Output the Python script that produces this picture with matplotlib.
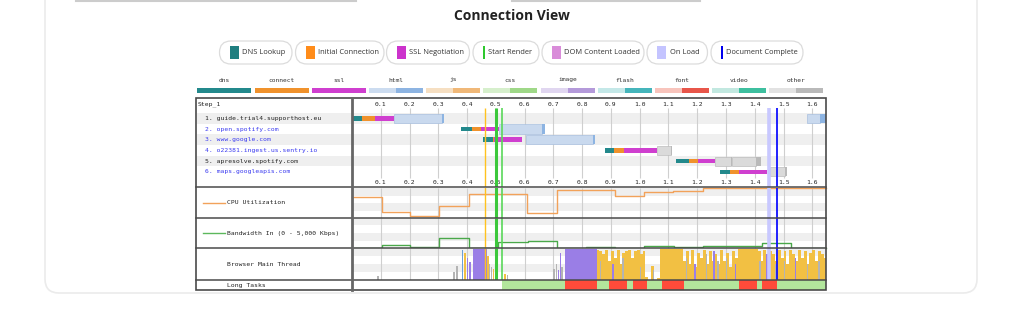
import matplotlib.pyplot as plt
from matplotlib.patches import FancyBboxPatch, Rectangle

# ---- data ----
hosts = ["guide.trial4.supporthost.eu", "open.spotify.com", "www.google.com",
         "o22381.ingest.us.sentry.io", "apresolve.spotify.com", "maps.googleapis.com"]
host_link = [False, True, True, True, False, True]

dns_start = [0.000, 0.379, 0.456, 0.879, 1.126, 1.279]
conn_start = [0.035, 0.418, 0.490, 0.912, 1.171, 1.314]
ssl_start = [0.080, 0.448, 0.494, 0.945, 1.202, 1.346]
ssl_end = [0.147, 0.511, 0.590, 1.059, 1.262, 1.441]

req_row = [0, 0, 1, 2, 3, 4, 4, 5]
req_start = [0.147, 1.580, 0.511, 0.605, 1.059, 1.262, 1.322, 1.453]
req_dl = [0.312, 1.628, 0.660, 0.838, 1.108, 1.318, 1.405, 1.505]
req_end = [0.320, 1.650, 0.671, 0.843, 1.111, 1.322, 1.422, 1.511]
req_type = ["html", "html", "html", "html", "other", "other", "other", "other"]

ticks = [0.1, 0.2, 0.3, 0.4, 0.5, 0.6, 0.7, 0.8, 0.9, 1.0, 1.1, 1.2, 1.3, 1.4, 1.5, 1.6]

event_t = [0.462, 0.500, 0.520, 1.449, 1.477]
event_c = ["#ffc21f", "#3cc83c", "#5ad85a", "#c8c8ff", "#1010ff"]
event_w = [1.0, 2.2, 1.2, 2.6, 1.3]

cpu_t = [0, 0.103, 0.2, 0.303, 0.406, 0.61, 0.711, 0.914, 1.015, 1.117, 1.221]
cpu_v = [71, 21, 7, 40, 79, 16, 93, 73, 86, 91, 100]

bw_t = [0, 0.103, 0.2, 0.303, 0.406, 0.509, 0.613, 0.711, 0.813, 0.914, 1.015, 1.12, 1.22, 1.424, 1.525]
bw_v = [0, 500, 170, 1600, 0, 950, 1170, 0, 120, 0, 330, 120, 280, 780, 0]

block_start = [0.421, 0.740]
block_end = [0.468, 0.851]

script_t0 = 0.85
script_h = [0.95, 0.9, 0.8, 0.95, 0.6, 0.9, 0.7, 0.95, 0.5, 0.85,
            0.9, 0.95, 0.7, 0.9, 0.95, 0.8, 0.9,
            0.1, 0.0, 0.45, 0.0, 0.05,
            0.98, 0.98, 0.97, 0.98, 0.98, 0.97, 0.98, 0.98,
            0.6, 0.9, 0.5, 0.95, 0.4, 0.85, 0.7, 0.95, 0.5, 0.9, 0.6,
            0.8, 0.5, 0.95, 0.6, 0.85, 0.4, 0.9, 0.7,
            0.97, 0.98, 0.98, 0.97, 0.98, 0.98, 0.97,
            0.9, 0.6, 0.95, 0.7, 0.9, 0.8, 0.6,
            0.95, 0.7, 0.9, 0.5, 0.95, 0.8, 0.6, 0.95, 0.7, 0.9, 0.5, 0.85,
            0.95, 0.6, 0.9, 0.8, 0.7]

spike_t = [0.088, 0.352, 0.362, 0.381, 0.390, 0.399, 0.408, 0.470, 0.476, 0.482,
           0.490, 0.497, 0.530, 0.538, 0.700, 0.708, 0.716, 0.722, 0.728,
           0.862, 0.905, 0.940, 1.000, 1.045, 1.160, 1.190, 1.230, 1.255, 1.270,
           1.300, 1.330, 1.415, 1.440, 1.470, 1.500, 1.540, 1.580, 1.620]
spike_h = [0.12, 0.25, 0.45, 0.95, 0.85, 0.7, 0.55, 0.75, 0.5, 0.4,
           0.35, 0.3, 0.2, 0.15, 0.35, 0.5, 0.3, 0.85, 0.4,
           0.6, 0.5, 0.7, 0.4, 0.3, 0.7, 0.5, 0.8, 0.9, 0.6,
           0.7, 0.5, 0.6, 0.8, 0.5, 0.6, 0.7, 0.5, 0.6]
spike_c = ["grey", "grey", "grey", "blue", "orange", "purple", "purple", "orange", "grey", "grey",
           "orange", "orange", "orange", "grey", "grey", "grey", "purple", "purple", "grey",
           "grey", "purple", "grey", "grey", "grey", "grey", "purple", "grey", "purple", "grey",
           "grey", "purple", "grey", "purple", "grey", "grey", "purple", "grey", "grey"]

lt_start = [0.522, 0.740, 0.893, 0.976, 1.078, 1.345, 1.425]
lt_end = [1.650, 0.851, 0.957, 1.026, 1.154, 1.409, 1.478]
lt_long = [False, True, True, True, True, True, True]

legend_labels = ["DNS Lookup", "Initial Connection", "SSL Negotiation", "Start Render",
                 "DOM Content Loaded", "On Load", "Document Complete"]
legend_colors = ["#1f7f80", "#ff8c1a", "#cc33cc", "#2ec82e", "#d98cd9", "#c4c4ff", "#0000ee"]
legend_thin = [False, False, False, True, False, False, True]

type_names = ["dns", "connect", "ssl", "html", "js", "css", "image", "flash", "font", "video", "other"]
type_light = ["#23898c", "#f0922c", "#cf3fcf", "#ccdcf0", "#f6dfc2", "#d6efcc", "#e0d6f0",
              "#c4e8e8", "#f8c4bc", "#c2e8e0", "#e2e2e2"]
type_dark = ["#23898c", "#f0922c", "#cf3fcf", "#8db4e2", "#f0b878", "#9fd888", "#b49ada",
             "#45b5bb", "#e8564a", "#3ebf9f", "#b9b9b9"]

# ---- layout ----
W, H = 1024, 330
X0, X1 = 352, 826
PX_PER_S = 287.7
T_END = (X1 - X0) / PX_PER_S
ROW0, ROW_H = 118.3, 10.7
MONO = "DejaVu Sans Mono"
GRID = "#cfcfcf"
STRIPE = "#efefef"
FRAME = "#4a4a4a"


def full_axes():
    ax = fig.add_axes([0, 0, 1, 1])
    ax.set_xlim(0, W)
    ax.set_ylim(H, 0)
    ax.set_axis_off()
    return ax


fig = plt.figure(figsize=(W / 100, H / 100), dpi=100)
bg = full_axes()

# page / card
bg.plot([76, 356], [0.6, 0.6], color="#cccccc", lw=1.5)
bg.plot([512, 700], [0.6, 0.6], color="#cccccc", lw=1.5)
bg.add_patch(FancyBboxPatch((45, -30), 932, 323, boxstyle="round,pad=0,rounding_size=14",
                            fc="white", ec="#ebebeb", lw=1.2))
bg.text(512, 16, "Connection View", ha="center", va="center", fontsize=10,
        fontweight="bold", family="Open Sans", color="#222222")

# legend pills
pill_x = [219.5, 295.5, 386.5, 473, 542, 647, 711]
pill_r = [292, 384, 469.5, 539, 644, 707.5, 803]
for lab, col, thin, x0, x1 in zip(legend_labels, legend_colors, legend_thin, pill_x, pill_r):
    bg.add_patch(FancyBboxPatch((x0, 41), x1 - x0, 23, boxstyle="round,pad=0,rounding_size=11.5",
                                fc="white", ec="#dcdcdc", lw=0.9))
    sw = 2 if thin else 9
    bg.add_patch(Rectangle((x0 + 10, 46), sw, 13, fc=col, ec="none"))
    bg.text(x0 + 10 + sw + 3.5, 52.5, lab, ha="left", va="center", fontsize=5.4,
            family="Open Sans", color="#333333")

# type legend
for i, (nm, cl, cd) in enumerate(zip(type_names, type_light, type_dark)):
    x0 = 197.3 + 57.2 * i
    bg.text(x0 + 27, 80, nm, ha="center", va="center", fontsize=4.5, family=MONO, color="#333333")
    bg.add_patch(Rectangle((x0, 88), 27, 5, fc=cl, ec="none"))
    bg.add_patch(Rectangle((x0 + 27, 88), 27, 5, fc=cd, ec="none"))

# waterfall label column
bg.text(198, 104, "Step_1", ha="left", va="center", fontsize=4.6, family=MONO, color="#222222")
for i, (h, link) in enumerate(zip(hosts, host_link)):
    yc = ROW0 + ROW_H * i
    if i % 2 == 0:
        bg.add_patch(Rectangle((197, yc - ROW_H / 2), X0 - 197, ROW_H, fc=STRIPE, ec="none"))
    bg.text(205, yc, f"{i + 1}. {h}", ha="left", va="center", fontsize=4.6, family=MONO,
            color="#3b3bf0" if link else "#222222")

# lower section labels
bg.plot([203, 225], [202.5, 202.5], color="#f2a25a", lw=1)
bg.text(227, 202.5, "CPU Utilization", ha="left", va="center", fontsize=4.6, family=MONO, color="#222222")
bg.plot([203, 225], [233, 233], color="#5cb85c", lw=1)
bg.text(227, 233, "Bandwidth In (0 - 5,000 Kbps)", ha="left", va="center", fontsize=4.6,
        family=MONO, color="#222222")
bg.text(227, 264, "Browser Main Thread", ha="left", va="center", fontsize=4.6, family=MONO, color="#222222")
bg.text(227, 285, "Long Tasks", ha="left", va="center", fontsize=4.6, family=MONO, color="#222222")


def px_axes(y0, y1, x0=X0, x1=X1):
    ax = fig.add_axes([x0 / W, 1 - y1 / H, (x1 - x0) / W, (y1 - y0) / H])
    ax.set_axis_off()
    ax.set_xlim(0, T_END)
    return ax


def stripes(ax, top):
    ax.axhspan(top * 0.75, top, color=STRIPE, lw=0, zorder=0)
    ax.axhspan(top * 0.25, top * 0.5, color=STRIPE, lw=0, zorder=0)
    ax.vlines(ticks, 0, top, color=GRID, lw=0.8, zorder=1)


def events(ax, y0, y1):
    for t, c, w in zip(event_t, event_c, event_w):
        ax.vlines(t, y0, y1, color=c, lw=w, zorder=6)


# waterfall
WF_TOP, WF_BOT = 97.5, 187
wf = px_axes(WF_TOP, WF_BOT)
wf.set_ylim((WF_BOT - ROW0) / ROW_H, (WF_TOP - ROW0) / ROW_H)
for i in range(len(hosts)):
    if i % 2 == 0:
        wf.axhspan(i - 0.5, i + 0.5, color=STRIPE, lw=0, zorder=0)
wf.vlines(ticks, -0.96, 5.55, color=GRID, lw=0.8, zorder=1)
for t in ticks:
    wf.text(t, (104 - ROW0) / ROW_H, f"{t:.1f}", ha="center", va="center", fontsize=4.6,
            family=MONO, color="#222222")
    wf.text(t, (182.3 - ROW0) / ROW_H, f"{t:.1f}", ha="center", va="center", fontsize=4.6,
            family=MONO, color="#222222")
rows = range(len(hosts))
wf.barh(rows, [c - d for c, d in zip(conn_start, dns_start)], left=dns_start, height=0.42,
        color=type_light[0], zorder=3)
wf.barh(rows, [s - c for s, c in zip(ssl_start, conn_start)], left=conn_start, height=0.42,
        color=type_light[1], zorder=3)
wf.barh(rows, [e - s for e, s in zip(ssl_end, ssl_start)], left=ssl_start, height=0.42,
        color=type_light[2], zorder=3)
for r, s, d, e, tp in zip(req_row, req_start, req_dl, req_end, req_type):
    k = type_names.index(tp)
    light = "#c9d9ee" if tp == "html" else "#dadada"
    edge = "#a9c0df" if tp == "html" else "#bdbdbd"
    wf.barh(r, d - s, left=s, height=0.85, color=light, edgecolor=edge, lw=0.5, zorder=3)
    wf.barh(r, e - d, left=d, height=0.85, color=type_dark[k], lw=0, zorder=3)
events(wf, -0.96, (WF_BOT - ROW0) / ROW_H)

# cpu
cpu = px_axes(188, 218)
cpu.set_ylim(0, 100)
stripes(cpu, 100)
cpu.step(cpu_t + [T_END], cpu_v + [cpu_v[-1]], where="post", color="#f2a25a", lw=1, zorder=4, clip_on=False)
events(cpu, 0, 103)

# bandwidth
bw = px_axes(218, 248)
bw.set_ylim(0, 5000)
stripes(bw, 5000)
events(bw, 0, 5000)
bw.step(bw_t + [T_END], bw_v + [bw_v[-1]], where="post", color="#4aa84a", lw=1, zorder=5, clip_on=False)

# main thread
mt = px_axes(248, 280)
mt.set_ylim(0, 1)
stripes(mt, 1)
kind_color = {"orange": "#f2c043", "purple": "#9a7ee6", "blue": "#6c9fd8", "grey": "#b4b4b4"}
mt.bar(block_start, [0.97] * len(block_start), width=[e - s for s, e in zip(block_start, block_end)],
       align="edge", color=kind_color["purple"], lw=0, zorder=3)
script_t = [script_t0 + 0.01 * i for i in range(len(script_h))]
mt.bar(script_t, script_h, width=0.01, align="edge", color=kind_color["orange"], lw=0, zorder=3)
mt.bar(spike_t, spike_h, width=0.005, align="edge", color=[kind_color[c] for c in spike_c], lw=0, zorder=4)
events(mt, 0, 1)

# long tasks
lt = px_axes(280, 290)
lt.set_ylim(0, 1)
for s, e, lg in zip(lt_start, lt_end, lt_long):
    lt.axvspan(s, e, color="#ff4b3a" if lg else "#b2e69c", lw=0, zorder=3 if lg else 2)

# frame on top of everything
fr = full_axes()
for y in [187, 218, 248, 279.5]:
    fr.plot([196, 826], [y, y], color=FRAME, lw=1.1)
fr.add_patch(Rectangle((196, 97.5), 630, 192.5, fc="none", ec=FRAME, lw=1.2))
fr.plot([352, 352], [97.5, 290], color="#666666", lw=2)

fig.savefig("out.png", dpi=100)
